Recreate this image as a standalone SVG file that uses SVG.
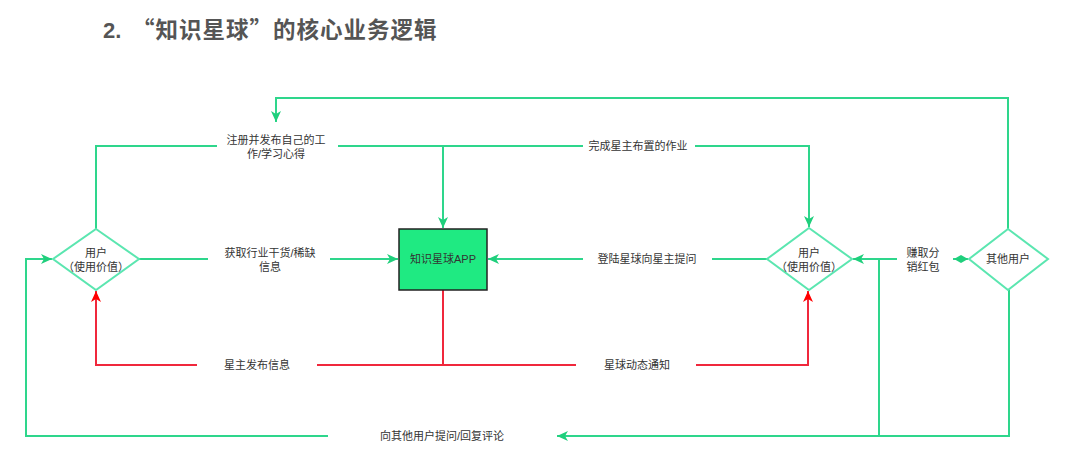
<svg xmlns="http://www.w3.org/2000/svg" width="1080" height="475" viewBox="0 0 1080 475">
<style>
.g{fill:none;stroke:#2ed68c;stroke-width:2}
.r{fill:none;stroke:#f0283c;stroke-width:2}
.dia{fill:#fff;stroke:#5be6b0;stroke-width:2}
.t{font-family:"Liberation Sans","Noto Sans CJK SC",sans-serif;font-size:11px;fill:#333;text-anchor:middle}
.title{font-weight:bold;fill:#555}
</style>
<defs>
<marker id="ag" markerUnits="userSpaceOnUse" markerWidth="12" markerHeight="10" refX="11" refY="5" orient="auto">
<path d="M0,0 L11,5 L0,10 L3,5 z" fill="#1fcf7c"/>
</marker>
<marker id="ar" markerUnits="userSpaceOnUse" markerWidth="12" markerHeight="10" refX="11" refY="5" orient="auto">
<path d="M0,0 L11,5 L0,10 L3,5 z" fill="#ff0000"/>
</marker>
<marker id="dg" markerUnits="userSpaceOnUse" markerWidth="16" markerHeight="10" refX="1" refY="5" orient="auto">
<path d="M1,5 L8,1 L15,5 L8,9 z" fill="#1fcf7c"/>
</marker>
</defs>
<rect width="1080" height="475" fill="#fff"/>
<text class="title" x="103" y="38" font-family="Liberation Sans, sans-serif" font-size="22">2.</text>
<text class="title" x="132" y="38" font-family="Noto Sans CJK SC, sans-serif" font-size="22.5" letter-spacing="1">“知识星球”的核心业务逻辑</text>

<g id="connectors">
<path class="g" d="M1008,229 V98 H276 V122" marker-end="url(#ag)"/>
<path class="g" d="M96,229 V146 H217"/>
<path class="g" d="M338,146 H583"/>
<path class="g" d="M443,146 V228" marker-end="url(#ag)"/>
<path class="g" d="M695,146 H809 V227" marker-end="url(#ag)"/>
<path class="g" d="M138,259 H208"/>
<path class="g" d="M330,259 H398" marker-end="url(#ag)"/>
<path class="g" d="M767,259 H712"/>
<path class="g" d="M583,259 H488" marker-end="url(#ag)"/>
<path class="g" d="M968,259 H953" marker-start="url(#dg)"/>
<path class="g" d="M897,259 H853" marker-end="url(#ag)"/>
<path class="g" d="M879,259 V436"/>
<path class="g" d="M1009,290 V436 H557" marker-end="url(#ag)"/>
<path class="g" d="M328,436 H26 V259 H52" marker-end="url(#ag)"/>
<path class="r" d="M443,290 V365 H317"/>
<path class="r" d="M197,365 H96 V291" marker-end="url(#ar)"/>
<path class="r" d="M443,365 H576"/>
<path class="r" d="M696,365 H808 V291" marker-end="url(#ar)"/>
</g>

<g id="labels">
<text class="t" x="276" y="144">注册并发布自己的工</text>
<text class="t" x="276" y="158">作/学习心得</text>
<text class="t" x="638" y="150">完成星主布置的作业</text>
<text class="t" x="270" y="257">获取行业干货/稀缺</text>
<text class="t" x="270" y="271">信息</text>
<text class="t" x="647" y="263">登陆星球向星主提问</text>
<text class="t" x="923" y="257">赚取分</text>
<text class="t" x="923" y="271">销红包</text>
<text class="t" x="257" y="369">星主发布信息</text>
<text class="t" x="637" y="369">星球动态通知</text>
<text class="t" x="442" y="440">向其他用户提问/回复评论</text>
</g>

<g id="user-left">
<polygon class="dia" points="96,229 139,259 96,290 53,259"/>
<text class="t" x="96" y="257">用户</text>
<text class="t" x="96" y="271">（使用价值）</text>
</g>
<g id="app">
<rect x="399" y="229" width="88" height="61" fill="#1fea82" stroke="#222" stroke-width="1.5"/>
<text class="t" x="443" y="263" fill="#222">知识星球APP</text>
</g>
<g id="user-right">
<polygon class="dia" points="809,228 852,259 809,290 767,259"/>
<text class="t" x="809" y="257">用户</text>
<text class="t" x="809" y="271">（使用价值）</text>
</g>
<g id="other-users">
<polygon class="dia" points="1008,229 1048,259 1008,290 969,259"/>
<text class="t" x="1008" y="263">其他用户</text>
</g>
</svg>
